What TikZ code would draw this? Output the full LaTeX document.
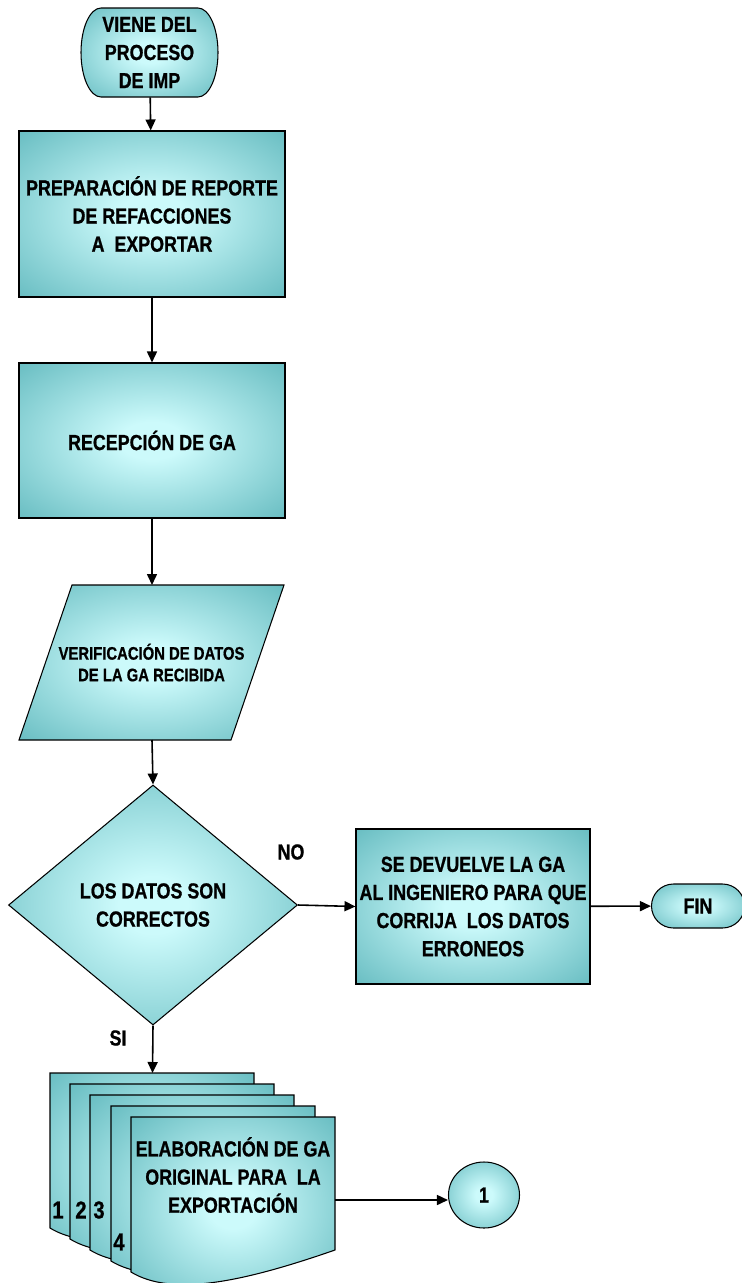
\documentclass[tikz,border=0pt]{standalone}
\usepackage{fontspec}
\setmainfont{Liberation Sans}[FakeStretch=0.82, BoldFeatures={FakeBold=0.8}]
\usetikzlibrary{positioning, shapes.geometric, shapes.misc, arrows.meta}

\definecolor{agua}{RGB}{96,184,189}
\definecolor{aguaclaro}{RGB}{204,250,251}
\pgfdeclareradialshading{brillo}{\pgfpointorigin}{color(0bp)=(aguaclaro); color(6bp)=(aguaclaro); color(38bp)=(agua); color(50bp)=(agua!90!black)}

\tikzset{
  relleno/.style={draw=black, line width=0.6pt, shade, shading=brillo},
  texto/.style={font=\bfseries\fontsize{12.4}{16}\selectfont, align=center},
  caja/.style={relleno, rectangle, inner sep=0pt, texto},
  terminal/.style={relleno, rounded rectangle, inner sep=0pt, texto},
  flecha/.style={line width=0.9pt, -{Triangle[length=2.2mm, width=2mm]}},
}

\begin{document}
\begin{tikzpicture}
        \useasboundingbox (0,0) rectangle (14.84,-25.66);

        % inicio con extremos elipticos
        \draw [relleno] (2.02, -0.16) -- (3.96, -0.16) arc [start angle=90, end angle=-90, x radius=0.40, y radius=0.89]
            -- (2.02, -1.94) arc [start angle=270, end angle=90, x radius=0.40, y radius=0.89] -- cycle;
        \node [texto, inner sep=0pt, minimum width=2.74cm, minimum height=1.78cm] (inicio) at (2.99, -1.05) {VIENE DEL\\PROCESO\\DE IMP};

        \node [caja, minimum width=5.32cm, minimum height=3.32cm] (prep) at (3.04, -4.28) {PREPARACIÓN DE REPORTE\\DE REFACCIONES\\A~~EXPORTAR};
        \node [caja, minimum width=5.32cm, minimum height=3.10cm] (recep) at (3.04, -8.81) {RECEPCIÓN DE GA};

        % datos de entrada
        \draw [relleno] (1.44, -11.70) -- (5.68, -11.70) -- (4.62, -14.80) -- (0.38, -14.80) -- cycle;
        \node [texto, font=\bfseries\fontsize{10.3}{12.3}\selectfont] (verif) at (3.03, -13.25) {VERIFICACIÓN DE DATOS\\DE LA GA RECIBIDA};
        \coordinate (verifN) at (3.04, -11.70);
        \coordinate (verifS) at (3.04, -14.80);

        \node [relleno, diamond, inner sep=0pt, minimum width=5.78cm, minimum height=4.80cm, texto] (datos) at (3.06, -18.10) {LOS DATOS SON\\CORRECTOS};
        \node [texto] (no) at (5.82, -17.04) {NO};
        \node [texto] (si) at (2.36, -20.76) {SI};

        \node [caja, minimum width=4.68cm, minimum height=3.10cm] (devuelve) at (9.46, -18.13) {SE DEVUELVE LA GA\\AL INGENIERO PARA QUE\\CORRIJA~~LOS DATOS\\ERRONEOS};
        \node [terminal, minimum width=1.86cm, minimum height=0.88cm] (fin) at (13.96, -18.12) {FIN};

        % juego de copias
        \foreach \x/\y in {1.00/-21.46, 1.40/-21.68, 1.80/-21.90, 2.22/-22.12, 2.62/-22.34}
            \draw [relleno] (\x, \y) -- ++(4.08, 0) -- ++(0, -2.66) .. controls (\x+2.24, \y-3.30) and (\x+0.82, \y-3.60) .. (\x, \y-3.10) -- cycle;
        \coordinate (pilaN) at (3.05, -21.46);
        \coordinate (elabE) at (6.70, -24.00);
        \node [texto] (elab) at (4.66, -23.50) {ELABORACIÓN DE GA\\ORIGINAL PARA~~LA\\EXPORTACIÓN};
        \node [texto, font=\bfseries\fontsize{14}{16}\selectfont] (hoja1) at (1.16, -24.20) {1};
        \node [texto, font=\bfseries\fontsize{14}{16}\selectfont] (hoja2) at (1.62, -24.20) {2};
        \node [texto, font=\bfseries\fontsize{14}{16}\selectfont] (hoja3) at (1.98, -24.20) {3};
        \node [texto, font=\bfseries\fontsize{14}{16}\selectfont] (hoja4) at (2.38, -24.84) {4};

        \node [relleno, ellipse, inner sep=0pt, minimum width=1.42cm, minimum height=1.32cm, texto] (uno) at (9.68, -23.90) {1};

        \draw [flecha] (inicio) -- (prep);
        \draw [flecha] (prep) -- (recep);
        \draw [flecha] (recep.south) -- (verifN);
        \draw [flecha] (verifS) -- (datos.north);
        \draw [flecha] (datos.east) -- (devuelve.west);
        \draw [flecha] (devuelve) -- (fin);
        \draw [flecha] (datos.south) -- (pilaN);
        \draw [flecha] (elabE) -- (elabE -| uno.west);
\end{tikzpicture}
\end{document}
